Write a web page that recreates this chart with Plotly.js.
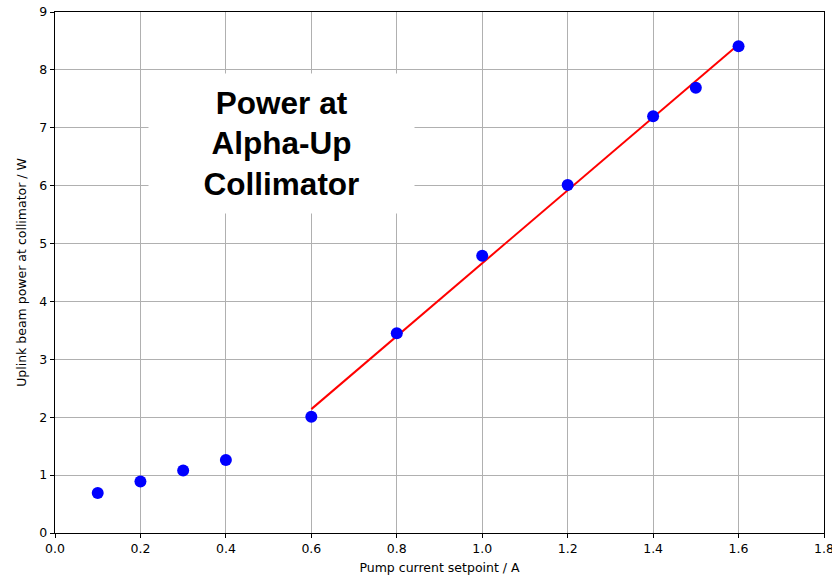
<!DOCTYPE html>
<html>
<head>
<meta charset="utf-8">
<script src="https://cdn.plot.ly/plotly-3.0.1.min.js"></script>
<style>html,body{margin:0;padding:0;background:#fff}#chart{width:832px;height:579px}</style>
</head>
<body>
<div id="chart"></div>
<script>
const pumpCurrent = [0.1, 0.2, 0.3, 0.4, 0.6, 0.8, 1.0, 1.2, 1.4, 1.5, 1.6];
const beamPower   = [0.69, 0.89, 1.08, 1.26, 2.01, 3.45, 4.79, 6.01, 7.20, 7.69, 8.41];
const fitX = [0.6, 1.6];
const fitY = [2.14, 8.44];
const xTicks = [0.0, 0.2, 0.4, 0.6, 0.8, 1.0, 1.2, 1.4, 1.6, 1.8];
const xTickLabels = ["0.0", "0.2", "0.4", "0.6", "0.8", "1.0", "1.2", "1.4", "1.6", "1.8"];
const yTicks = [0, 1, 2, 3, 4, 5, 6, 7, 8, 9];
const titleText = "Power at<br>Alpha-Up<br>Collimator";

const tickFont = {family: "DejaVu Sans", size: 12.5, color: "#000"};

const traces = [
  {x: fitX, y: fitY, mode: "lines", type: "scatter",
   line: {color: "#ff0000", width: 2}, hoverinfo: "skip"},
  {x: pumpCurrent, y: beamPower, mode: "markers", type: "scatter",
   marker: {color: "#0000ff", size: 12}}
];

const axisCommon = {
  showline: true, mirror: true, linecolor: "#000", linewidth: 1.2,
  ticks: "outside", ticklen: 4, tickwidth: 1, tickcolor: "#000",
  showgrid: true, gridcolor: "#b0b0b0", gridwidth: 1,
  zeroline: false, tickfont: tickFont
};

const layout = {
  width: 832, height: 579,
  margin: {l: 55, r: 8, t: 12, b: 45.5},
  paper_bgcolor: "#fff", plot_bgcolor: "#fff",
  showlegend: false,
  xaxis: Object.assign({}, axisCommon, {
    range: [0, 1.8], tickmode: "array", tickvals: xTicks, ticktext: xTickLabels,
    ticklabeloverflow: "allow",
    title: {text: "Pump current setpoint / A", font: {family: "DejaVu Sans", size: 12.5, color: "#000"}, standoff: 8}
  }),
  yaxis: Object.assign({}, axisCommon, {
    range: [0, 9], tickmode: "array", tickvals: yTicks,
    title: {text: "Uplink beam power at collimator / W", font: {family: "DejaVu Sans", size: 12.5, color: "#000"}, standoff: 10}
  }),
  annotations: [{
    text: titleText, xref: "x", yref: "y", x: 0.529, y: 6.73,
    showarrow: false, bgcolor: "#ffffff", width: 263, height: 137,
    align: "center", valign: "middle",
    font: {family: "Liberation Sans, Arial, sans-serif", size: 31.5, color: "#000", weight: "bold"}
  }]
};

Plotly.newPlot("chart", traces, layout, {displayModeBar: false, staticPlot: true});
</script>
</body>
</html>
